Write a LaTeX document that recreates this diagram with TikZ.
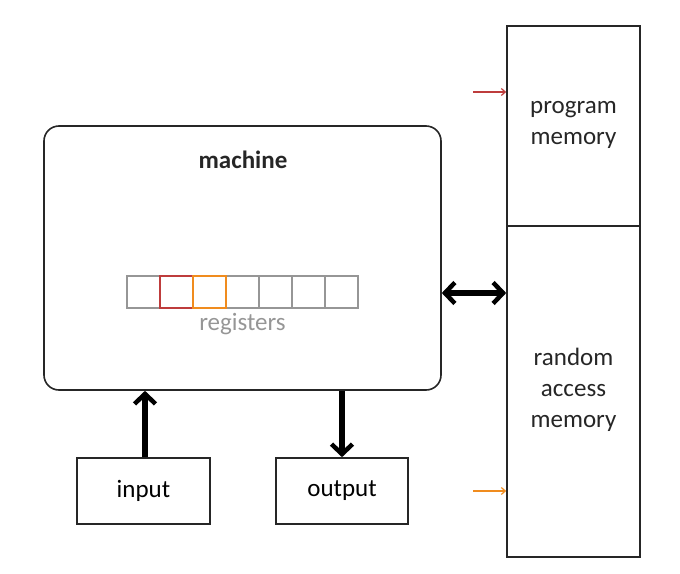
\documentclass[tikz,border=0pt]{standalone}
\usepackage{fontspec}
\setmainfont{Carlito}
\usetikzlibrary{arrows.meta}
\definecolor{regred}{RGB}{190,60,60}
\definecolor{regorange}{RGB}{240,140,30}
\definecolor{reggray}{RGB}{150,150,150}
\tikzset{
  box/.style={draw=black!85, line width=1.6pt, inner sep=0pt, font=\fontsize{25}{31}\selectfont, align=center},
  lbl/.style={font=\fontsize{25}{31}\selectfont, align=center, text=black!85},
  reg/.style={draw=reggray, line width=1.6pt, minimum width=33pt, minimum height=32pt, inner sep=0pt},
  bigbarb/.tip={Straight Barb[length=10pt,width=21pt,line width=4.5pt]},
  bigarrow/.style={line width=5.5pt, -bigbarb},
  smallarrow/.style={line width=1.3pt, -{Straight Barb[length=4pt,width=7pt,line width=1.2pt]}},
}
\begin{document}
\begin{tikzpicture}[x=1pt,y=-1pt]
\useasboundingbox (0,0) rectangle (680,573);
% machine
\node[box, rounded corners=15pt, minimum width=397pt, minimum height=264pt] (machine) at (242.5,258) {};
\node[lbl, font=\fontsize{25}{31}\selectfont\bfseries] (mlabel) at (243,160) {machine};
% registers
\foreach \i in {0,...,6} {
  \node[reg] (r\i) at (143.5+33*\i,292) {};
}
\node[reg, draw=regred] (r1b) at (r1) {};
\node[reg, draw=regorange] (r2b) at (r2) {};
\node[lbl, text=reggray] (rlabel) at (242.5,324) {registers};
% memories
\node[box, minimum width=133pt, minimum height=200pt] (pm) at (573.5,126) {};
\node[lbl] (pmlabel) at (573.5,125) {program\\memory};
\node[box, minimum width=133pt, minimum height=331pt] (ram) at (573.5,391.5) {};
\node[lbl] (ramlabel) at (573.5,390) {random\\access\\memory};
% io
\node[box, minimum width=133pt, minimum height=66pt] (input) at (143.5,491) {input};
\node[box, minimum width=132pt, minimum height=66pt] (output) at (342,491) {output};
% arrows
\draw[line width=5.5pt, bigbarb-bigbarb] (machine.east |- 0,293) -- (ram.west |- 0,293);
\draw[bigarrow] (input.north -| 145,0) -- (machine.south -| 145,0);
\draw[bigarrow] (machine.south -| 342,0) -- (output.north -| 342,0);
\coordinate (redstart) at (473,92);
\coordinate (orangestart) at (473,491);
\draw[smallarrow, regred] (redstart) -- (pm.west |- redstart);
\draw[smallarrow, regorange] (orangestart) -- (ram.west |- orangestart);
\end{tikzpicture}
\end{document}
